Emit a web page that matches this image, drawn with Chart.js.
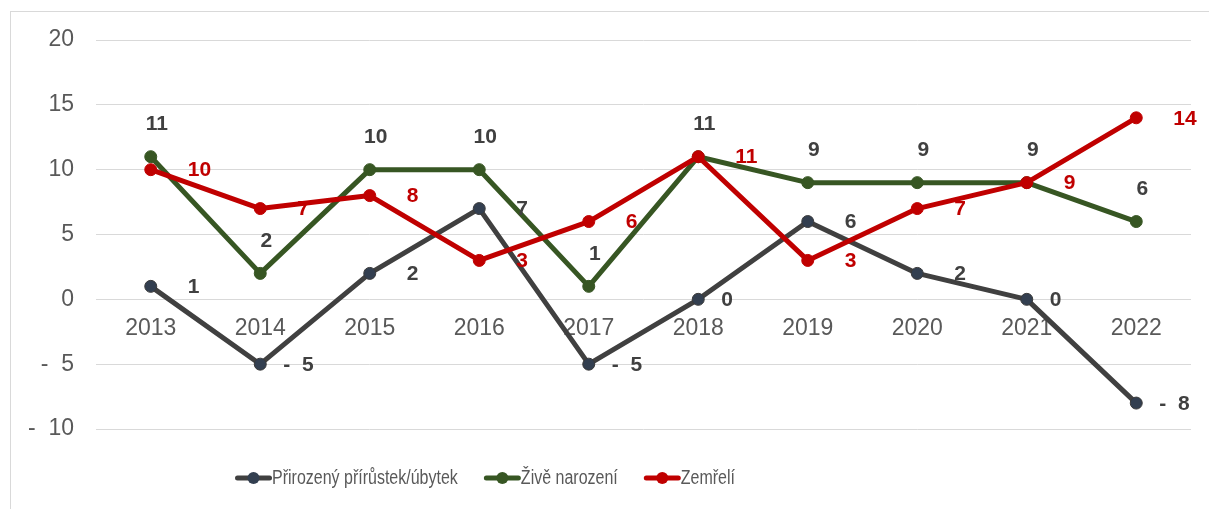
<!DOCTYPE html>
<html>
<head>
<meta charset="utf-8">
<script src="https://cdn.jsdelivr.net/npm/chart.js@4.4.0/dist/chart.umd.min.js"></script>
<style>
    html, body { margin: 0; padding: 0; background: #fff; }
    #wrap { position: relative; width: 1209px; height: 509px; overflow: hidden; }
    #frame { position: absolute; left: 10px; top: 11px; width: 1300px; height: 600px;
             border-left: 1px solid #d9d9d9; border-top: 1px solid #d9d9d9; }
    canvas { position: absolute; left: 0; top: 0; }
</style>
</head>
<body>
<div id="wrap">
    <div id="frame"></div>
    <canvas id="chart" width="1209" height="509"></canvas>
</div>
<script>
// Data
const years = ['2013', '2014', '2015', '2016', '2017', '2018', '2019', '2020', '2021', '2022'];
const naturalChange = [1, -5, 2, 7, -5, 0, 6, 2, 0, -8];
const liveBirths = [11, 2, 10, 10, 1, 11, 9, 9, 9, 6];
const deaths = [10, 7, 8, 3, 6, 11, 3, 7, 9, 14];
const yMin = -10;
const yMax = 20;
const yStep = 5;

const FONT = "'Liberation Sans', Arial, sans-serif";

// Excel-like number format: negative shown as "-  5"
function fmt(v) {
    return v < 0 ? '-  ' + Math.abs(v) : String(v);
}

// Draw value labels next to points
const valueLabels = {
    id: 'valueLabels',
    afterDatasetsDraw(chart) {
        const ctx = chart.ctx;
        ctx.save();
        ctx.font = 'bold 21px ' + FONT;
        ctx.textBaseline = 'middle';
        chart.data.datasets.forEach((ds, i) => {
            const meta = chart.getDatasetMeta(i);
            meta.data.forEach((pt, j) => {
                const v = ds.data[j];
                ctx.fillStyle = ds.labelColor;
                if (ds.labelPos === 'above') {
                    ctx.textAlign = 'center';
                    ctx.fillText(fmt(v), pt.x + 6, pt.y - 32);
                } else {
                    ctx.textAlign = 'left';
                    ctx.fillText(fmt(v), pt.x + (v > 0 ? 37 : 23), pt.y + 1);
                }
            });
        });
        ctx.restore();
    }
};

// Legend with narrow text (line + dot swatch)
const narrowLegend = {
    id: 'narrowLegend',
    afterDraw(chart) {
        const ctx = chart.ctx;
        const y = 478;
        let x = 235;
        ctx.save();
        ctx.font = '20px ' + FONT;
        ctx.textBaseline = 'middle';
        ctx.textAlign = 'left';
        chart.data.datasets.forEach(ds => {
            // swatch
            ctx.strokeStyle = ds.borderColor;
            ctx.lineWidth = 5;
            ctx.lineCap = 'round';
            ctx.beginPath();
            ctx.moveTo(x + 2.5, y);
            ctx.lineTo(x + 34.5, y);
            ctx.stroke();
            ctx.fillStyle = ds.pointBackgroundColor;
            ctx.beginPath();
            ctx.arc(x + 18.5, y, 6, 0, Math.PI * 2);
            ctx.fill();
            // text, squeezed like Arial Narrow
            const tx = x + 37;
            ctx.save();
            ctx.translate(tx, y);
            ctx.scale(0.8, 1);
            ctx.fillStyle = '#595959';
            ctx.fillText(ds.label, 0, 0);
            ctx.restore();
            x = tx + ctx.measureText(ds.label).width * 0.8 + 26;
        });
        ctx.restore();
    }
};

const ctx = document.getElementById('chart');
new Chart(ctx, {
    type: 'line',
    data: {
        labels: years,
        datasets: [{
            label: 'Přirozený přírůstek/úbytek',
            data: naturalChange,
            borderColor: '#404040',
            backgroundColor: '#333F50',
            pointBackgroundColor: '#333F50',
            pointBorderColor: '#3a3a3a',
            pointBorderWidth: 1,
            labelColor: '#404040',
            labelPos: 'right',
            order: 2
        }, {
            label: 'Živě narození',
            data: liveBirths,
            borderColor: '#375623',
            backgroundColor: '#375623',
            pointBackgroundColor: '#375623',
            pointBorderColor: '#375623',
            pointBorderWidth: 1,
            labelColor: '#404040',
            labelPos: 'above',
            order: 1
        }, {
            label: 'Zemřelí',
            data: deaths,
            borderColor: '#C00000',
            backgroundColor: '#C00000',
            pointBackgroundColor: '#C00000',
            pointBorderColor: '#C00000',
            pointBorderWidth: 1,
            labelColor: '#C00000',
            labelPos: 'right',
            order: 0
        }]
    },
    options: {
        responsive: false,
        animation: false,
        layout: {
            padding: { top: 40, right: 18, bottom: 80, left: 0 }
        },
        elements: {
            line: { borderWidth: 5, tension: 0, borderJoinStyle: 'round', borderCapStyle: 'round' },
            point: { radius: 6, hoverRadius: 6 }
        },
        scales: {
            x: {
                type: 'category',
                position: { y: 0 },
                offset: true,
                grid: { display: false, drawTicks: false },
                border: { display: false },
                ticks: {
                    color: '#595959',
                    font: { family: FONT, size: 23 },
                    padding: 16,
                    maxRotation: 0
                }
            },
            y: {
                min: yMin,
                max: yMax,
                grid: { color: '#d9d9d9', lineWidth: 1, drawTicks: false },
                border: { display: false },
                ticks: {
                    stepSize: yStep,
                    color: '#595959',
                    font: { family: FONT, size: 23 },
                    padding: 22,
                    callback: (v) => fmt(v)
                },
                afterFit(axis) {
                    axis.width = 96;
                }
            }
        },
        plugins: {
            tooltip: { enabled: false },
            legend: { display: false }
        }
    },
    plugins: [valueLabels, narrowLegend]
});
</script>
</body>
</html>
